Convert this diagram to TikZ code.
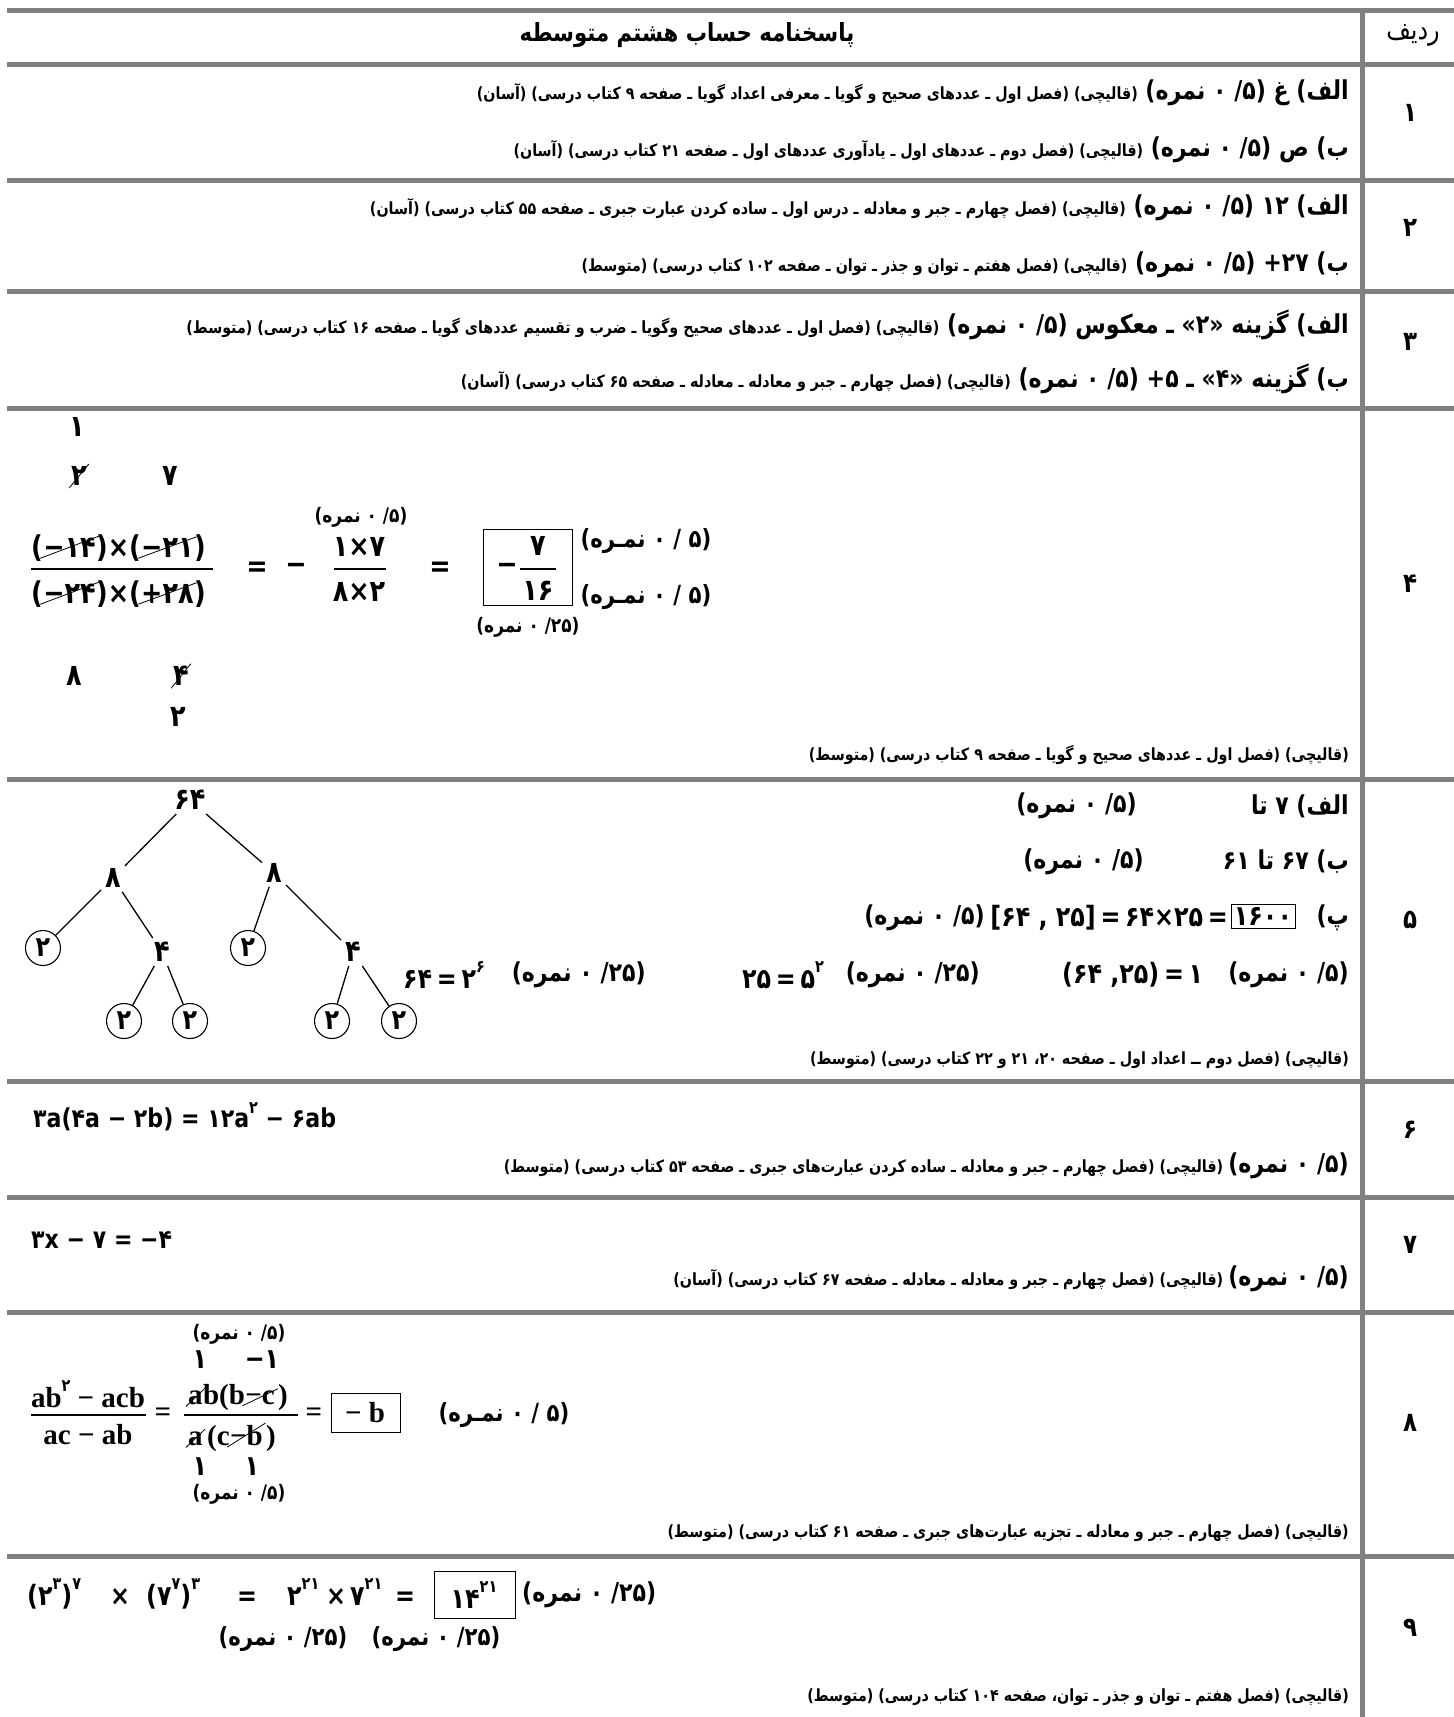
\documentclass[tikz,border=0pt]{standalone}
\usepackage{fontspec}
\usetikzlibrary{positioning}
\TeXXeTstate=1
\newfontfamily\fa[Script=Arabic,FakeStretch=0.85]{DejaVu Sans}
\newfontfamily\fanum[FakeStretch=0.85]{DejaVu Sans}
\newfontfamily\faserif{Liberation Serif}
\definecolor{gridgray}{RGB}{128,128,128}
\newcommand{\bigfa}{\fa\bfseries\fontsize{26}{30}\selectfont}
\newcommand{\smallfa}{\fa\bfseries\fontsize{16.8}{20}\selectfont}
\newcommand{\notefa}{\fa\bfseries\fontsize{20}{24}\selectfont}
\newcommand{\mathfa}{\fanum\bfseries\fontsize{28}{32}\selectfont}
\newcommand{\nomre}[1]{(#1/ ۰ نمره)}
\newcommand{\nomrek}[1]{(#1 / ۰ نمـره)}
\newcommand{\pw}[1]{\raisebox{0.55em}{\fontsize{17}{17}\selectfont #1}}

\begin{document}
\begin{tikzpicture}[x=1pt,y={(0pt,-1pt)},
  every node/.style={inner sep=0pt},
  gridline/.style={draw=gridgray,line width=5pt},
  answer/.style={anchor=east,font=\bigfa},
  source/.style={anchor=east,font=\smallfa},
  rownum/.style={font=\fa\bfseries\fontsize{27}{30}\selectfont},
  mathtxt/.style={font=\mathfa},
  linemath/.style={font=\fanum\bfseries\fontsize{26}{30}\selectfont,anchor=west},
  fracnum/.style={font=\fanum\bfseries\fontsize{30}{34}\selectfont},
  serifmath/.style={font=\faserif\bfseries\fontsize{29}{32}\selectfont},
  note/.style={font=\notefa},
  label/.style={font=\fa\bfseries\fontsize{25}{28}\selectfont},
  fracbar/.style={line width=1.3pt},
  slash/.style={line width=0.8pt,shorten <=-3pt,shorten >=-3pt},
  answerbox/.style={draw,line width=0.9pt},
  factor/.style={font=\fanum\bfseries\fontsize{30}{34}\selectfont,inner sep=4pt},
  prime/.style={font=\fanum\bfseries\fontsize{28}{32}\selectfont,circle,draw,line width=1.1pt,minimum size=35pt,inner sep=0pt},
  branch/.style={line width=1.3pt}]
\useasboundingbox (0,0) rectangle (1454,1717);

% table frame
\foreach \ypos in {10,64,180,291,408,779,1081,1197,1312,1556}
  \draw[gridline] (7,\ypos) -- (1454,\ypos);
\draw[gridline] (1362,10) -- (1362,1717);

% header
\node[font=\fa\bfseries\fontsize{25}{30}\selectfont] (title) at (687,35) {\beginR پاسخنامه حساب هشتم متوسطه\endR};
\node[font=\fa\fontsize{28}{32}\selectfont] (radif) at (1413,35) {\beginR ردیف\endR};

% row numbers
\node[rownum] (n1) at (1410,113) {۱};
\node[rownum] (n2) at (1410,228) {۲};
\node[rownum] (n3) at (1410,342) {۳};
\node[rownum] (n4) at (1410,584) {۴};
\node[rownum] (n5) at (1410,920) {۵};
\node[rownum] (n6) at (1410,1130) {۶};
\node[rownum] (n7) at (1410,1245) {۷};
\node[rownum] (n8) at (1410,1423) {۸};
\node[rownum] (n9) at (1410,1628) {۹};

% rows 1-3
\node[answer] (r1a) at (1349,93) {\beginR الف) غ \nomre{۵} {\smallfa (قالیچی) (فصل اول ـ عددهای صحیح و گویا ـ معرفی اعداد گویا ـ صفحه ۹ کتاب درسی) (آسان)}\endR};
\node[answer] (r1b) at (1349,150) {\beginR ب) ص \nomre{۵} {\smallfa (قالیچی) (فصل دوم ـ عددهای اول ـ یادآوری عددهای اول ـ صفحه ۲۱ کتاب درسی) (آسان)}\endR};
\node[answer] (r2a) at (1349,208) {\beginR الف) ۱۲ \nomre{۵} {\smallfa (قالیچی) (فصل چهارم ـ جبر و معادله ـ درس اول ـ ساده کردن عبارت جبری ـ صفحه ۵۵ کتاب درسی) (آسان)}\endR};
\node[answer] (r2b) at (1349,265) {\beginR ب) ۲۷+ \nomre{۵} {\smallfa (قالیچی) (فصل هفتم ـ توان و جذر ـ توان ـ صفحه ۱۰۲ کتاب درسی) (متوسط)}\endR};
\node[answer] (r3a) at (1349,325) {\beginR الف) گزینه «۲» ـ معکوس \nomre{۵} {\smallfa (قالیچی) (فصل اول ـ عددهای صحیح وگویا ـ ضرب و تقسیم عددهای گویا ـ صفحه ۱۶ کتاب درسی) (متوسط)}\endR};
\node[answer] (r3b) at (1349,379) {\beginR ب) گزینه «۴» ـ ۵+ \nomre{۵} {\smallfa (قالیچی) (فصل چهارم ـ جبر و معادله ـ معادله ـ صفحه ۶۵ کتاب درسی) (آسان)}\endR};

% row 4
\node[fracnum] (top1) at (77,427) {۱};
\node[fracnum] (top2) at (79,476) {۲};
\node[fracnum] (top7) at (170,476) {۷};
\draw[slash] (top2.south west) -- (top2.north east);
\node[note] (m4a) at (361,517) {\beginR\nomre{۵}\endR};
% numerator and denominator, piece by piece
\node[fracnum,anchor=base west] (nl) at (31,557) {(};
\node[fracnum,base right=0pt of nl] (c14) {−۱۴};
\node[fracnum,base right=0pt of c14] (nm) {)×(};
\node[fracnum,base right=0pt of nm] (c21) {−۲۱};
\node[fracnum,base right=0pt of c21] (nr) {)};
\node[fracnum,anchor=base west] (dl) at (31,603) {(};
\node[fracnum,base right=0pt of dl] (c24) {−۲۴};
\node[fracnum,base right=0pt of c24] (dm) {)×(};
\node[fracnum,base right=0pt of dm] (c28) {+۲۸};
\node[fracnum,base right=0pt of c28] (dr) {)};
\draw[slash] (c14.south west) -- (c14.north east);
\draw[slash] (c21.south west) -- (c21.north east);
\draw[slash] (c24.south west) -- (c24.north east);
\draw[slash] (c28.south west) -- (c28.north east);
\draw[fracbar] (31,569) -- (213,569);
\node[fracnum] (eq4a) at (257,569) {=};
\node[fracnum] (minus4) at (296,569) {−};
\node[fracnum] (num4b) at (359,547) {۱×۷};
\node[fracnum] (den4b) at (359,592) {۸×۲};
\draw[fracbar] (334,569) -- (386,569);
\node[fracnum] (eq4b) at (440,569) {=};
\draw[answerbox] (483,529) rectangle (572,605);
\node[fracnum] (minus4b) at (507,569) {−};
\node[fracnum] (num4c) at (538,546) {۷};
\node[fracnum] (den4c) at (538,591) {۱۶};
\draw[fracbar] (520,569) -- (556,569);
\node[label] (m4b) at (646,541) {\beginR\nomrek{۵}\endR};
\node[label] (m4c) at (646,597) {\beginR\nomrek{۵}\endR};
\node[note] (m4d) at (528,627) {\beginR\nomre{۲۵}\endR};
\node[fracnum] (bot8) at (74,676) {۸};
\node[fracnum] (bot4) at (181,676) {۴};
\draw[slash] (bot4.south west) -- (bot4.north east);
\node[fracnum] (bot2) at (178,717) {۲};
\node[source] (s4) at (1349,755) {\beginR (قالیچی) (فصل اول ـ عددهای صحیح و گویا ـ صفحه ۹ کتاب درسی) (متوسط)\endR};

% row 5: factor tree of 64
\node[factor] (t64) at (190,800) {۶۴};
\node[factor] (t8a) at (113,878) {۸};
\node[factor] (t8b) at (274,873) {۸};
\node[prime] (t2a) at (43,948) {۲};
\node[factor] (t4a) at (162,952) {۴};
\node[prime] (t2b) at (248,948) {۲};
\node[factor] (t4b) at (353,952) {۴};
\node[prime] (t2c) at (124,1021) {۲};
\node[prime] (t2d) at (190,1021) {۲};
\node[prime] (t2e) at (332,1021) {۲};
\node[prime] (t2f) at (399,1021) {۲};
\draw[branch] (t64) -- (t8a);
\draw[branch] (t64) -- (t8b);
\draw[branch] (t8a) -- (t2a);
\draw[branch] (t8a) -- (t4a);
\draw[branch] (t8b) -- (t2b);
\draw[branch] (t8b) -- (t4b);
\draw[branch] (t4a) -- (t2c);
\draw[branch] (t4a) -- (t2d);
\draw[branch] (t4b) -- (t2e);
\draw[branch] (t4b) -- (t2f);

\node[answer] (r5a) at (1349,806) {\beginR الف) ۷ تا\endR};
\node[answer] (r5an) at (1137,806) {\beginR\nomre{۵}\endR};
\node[answer] (r5b) at (1349,862) {\beginR ب) ۶۷ تا ۶۱\endR};
\node[answer] (r5bn) at (1144,862) {\beginR\nomre{۵}\endR};
\node[answer] (r5c) at (1349,918) {\beginR پ)\endR};
\node[mathtxt,answerbox,inner sep=3pt] (lcm) at (1263,916) {۱۶۰۰};
\node[mathtxt,anchor=east] (r5cm) at (1228,918) {[۶۴ , ۲۵]\,=\,۶۴×۲۵\,=};
\node[answer] (r5cn) at (985,918) {\beginR\nomre{۵}\endR};
\node[answer] (r5dn) at (1349,975) {\beginR\nomre{۵}\endR};
\node[mathtxt,anchor=west] (gcd) at (1062,975) {(۶۴ ,۲۵)\,=\,۱};
\node[answer] (r5en) at (980,975) {\beginR\nomre{۲۵}\endR};
\node[mathtxt,anchor=west] (p25) at (742,975) {۲۵\,=\,۵\pw{۲}};
\node[answer] (r5fn) at (646,975) {\beginR\nomre{۲۵}\endR};
\node[mathtxt,anchor=west] (p64) at (403,975) {۶۴\,=\,۲\pw{۶}};
\node[source] (s5) at (1349,1060) {\beginR (قالیچی) (فصل دوم ــ اعداد اول ـ صفحه ۲۰، ۲۱ و ۲۲ کتاب درسی) (متوسط)\endR};

% rows 6-7
\node[linemath] (eq6) at (33,1117) {۳a(۴a − ۲b) = ۱۲a\pw{۲} − ۶ab};
\node[source] (s6) at (1349,1166) {\beginR{\bigfa\nomre{۵}} (قالیچی) (فصل چهارم ـ جبر و معادله ـ ساده کردن عبارت‌های جبری ـ صفحه ۵۳ کتاب درسی) (متوسط)\endR};
\node[linemath] (eq7) at (31,1240) {۳x − ۷ = −۴};
\node[source] (s7) at (1349,1279) {\beginR{\bigfa\nomre{۵}} (قالیچی) (فصل چهارم ـ جبر و معادله ـ معادله ـ صفحه ۶۷ کتاب درسی) (آسان)\endR};

% row 8
\node[note] (m8a) at (239,1334) {\beginR\nomre{۵}\endR};
\node[mathtxt] (up1) at (200,1360) {۱};
\node[mathtxt] (up2) at (262,1360) {−۱};
\node[serifmath] (num8) at (88,1394) {ab\pw{\fanum ۲} − acb};
\node[serifmath] (den8) at (88,1435) {ac − ab};
\draw[fracbar] (31,1415) -- (146,1415);
\node[serifmath] (eq8a) at (163,1415) {=};
\node[serifmath,anchor=base west] (sa1) at (188,1404) {a};
\node[serifmath,base right=0pt of sa1] (nb8) {b(b\hspace{5pt}};
\node[serifmath,base right=0pt of nb8] (sc) {−c};
\node[serifmath,base right=0pt of sc] (nr8) {\hspace{3pt})};
\node[serifmath,anchor=base west] (sa2) at (188,1445) {a};
\node[serifmath,base right=0pt of sa2] (db8) {\hspace{4pt}(c\hspace{5pt}};
\node[serifmath,base right=0pt of db8] (sb) {−b};
\node[serifmath,base right=0pt of sb] (dr8) {\hspace{3pt})};
\draw[slash] (sa1.south west) -- (sa1.north east);
\draw[slash] (sc.south west) -- (sc.north east);
\draw[slash] (sa2.south west) -- (sa2.north east);
\draw[slash] (sb.south west) -- (sb.north east);
\draw[fracbar] (184,1415) -- (298,1415);
\node[serifmath] (eq8b) at (314,1415) {=};
\draw[answerbox] (331,1393) rectangle (400,1432);
\node[serifmath] (res8) at (365,1413) {− b};
\node[label] (m8b) at (504,1415) {\beginR\nomrek{۵}\endR};
\node[mathtxt] (dn1) at (200,1467) {۱};
\node[mathtxt] (dn2) at (252,1467) {۱};
\node[note] (m8c) at (239,1494) {\beginR\nomre{۵}\endR};
\node[source] (s8) at (1349,1533) {\beginR (قالیچی) (فصل چهارم ـ جبر و معادله ـ تجزیه عبارت‌های جبری ـ صفحه ۶۱ کتاب درسی) (متوسط)\endR};

% row 9
\node[mathtxt,anchor=base west] (pa) at (27,1605) {(۲\pw{۳})\pw{۷}};
\node[mathtxt,anchor=base] (x1) at (120,1605) {×};
\node[mathtxt,anchor=base west] (pb) at (146,1605) {(۷\pw{۷})\pw{۳}};
\node[mathtxt,anchor=base] (e1) at (247,1605) {=};
\node[mathtxt,anchor=base west] (pc) at (287,1605) {۲\pw{۲۱}};
\node[mathtxt,anchor=base] (x2) at (336,1605) {×};
\node[mathtxt,anchor=base west] (pd) at (350,1605) {۷\pw{۲۱}};
\node[mathtxt,anchor=base] (e2) at (405,1605) {=};
\draw[answerbox] (434,1571) rectangle (515,1618);
\node[mathtxt] (res9) at (474,1595) {۱۴\pw{۲۱}};
\node[font=\bigfa,anchor=west] (m9a) at (522,1595) {\beginR\nomre{۲۵}\endR};
\node[font=\fa\bfseries\fontsize{25}{28}\selectfont] (m9b) at (283,1639) {\beginR\nomre{۲۵}\endR};
\node[font=\fa\bfseries\fontsize{25}{28}\selectfont] (m9c) at (436,1639) {\beginR\nomre{۲۵}\endR};
\node[source] (s9) at (1349,1697) {\beginR (قالیچی) (فصل هفتم ـ توان و جذر ـ توان، صفحه ۱۰۴ کتاب درسی) (متوسط)\endR};
\end{tikzpicture}
\end{document}
